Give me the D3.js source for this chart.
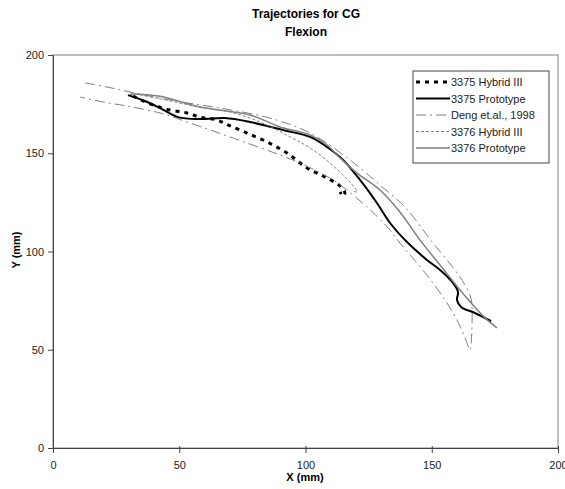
<!DOCTYPE html>
<html>
<head>
<meta charset="utf-8">
<script src="https://cdn.jsdelivr.net/npm/d3@7"></script>
<style>
  body { margin: 0; background: #fff; }
  text { font-family: "Liberation Sans", Arial, sans-serif; }
</style>
</head>
<body>
<div id="viz"></div>
<script>
/* ===== Data (x, y in mm) ===== */
const hybrid3375 = [[31.7,179.1],[38.4,175.1],[46.3,172],[53.1,170.5],[58.2,168.4],[65,166.9],[69.3,164.4],[76.8,160.3],[84.8,155.7],[92.7,150.1],[100.6,142.5],[107.7,137.9],[113.7,133.3],[115.6,129.8],[114.9,128.2],[113.7,130.3]];
const proto3375 = [[29.7,179.6],[36.4,176.6],[42.4,173.0],[49.5,168.4],[58.2,167.4],[68.1,167.9],[78.0,165.9],[91.1,161.8],[101.8,158.3],[108.5,153.2],[114.9,146.6],[121.6,136.4],[128.3,124.7],[133.5,114.5],[140.2,104.8],[148.1,95.7],[153.3,90.6],[158.4,84.0],[160.4,79.4],[160.0,75.3],[161.6,71.8],[167.1,68.7],[173.5,64.5]];
const deng1998 = [[12.7,185.8],[21.4,183.7],[30.5,181.2],[46.3,177.1],[66.1,173],[85.9,167.9],[101.8,160.3],[117.6,146.6],[129.5,133.8],[139.4,122.6],[150.5,104.3],[156,95.7],[161.2,87],[165.1,77.9],[165.9,72.8],[165.1,49.9],[164,53.4],[160,65.1],[154.5,76.8],[146.5,90.6],[137.4,104.3],[133.5,110.9],[124.4,122.6],[110.9,136.4],[97.8,145],[89.9,149.1],[70.1,158.3],[53.1,165.9],[42.4,170.5],[29.3,174],[19.8,176.1],[10.7,178.6]];
const hybrid3376 = [[32.5,180.2],[42.4,177.7],[58.2,173.5],[70.1,171],[82,165.9],[93.9,158.3],[101.8,152.7],[109.7,145],[115.6,137.9],[119.6,132.3],[120.4,130.3],[119.2,130.6]];
const proto3376 = [[30.5,180.2],[42.4,179],[58.2,173.5],[78,169.5],[89.9,163.4],[101.8,159.3],[108.5,154.2],[113.7,147.6],[120.4,139.9],[129.5,131.3],[137.4,120.1],[145.3,105.9],[153.3,93.1],[161.2,80.4],[166.3,72.8],[171.1,66.2],[175.8,61.1]];

const seriesNames = ['3375 Hybrid III', '3375 Prototype', 'Deng et.al., 1998', '3376 Hybrid III', '3376 Prototype'];
const xTicks = [0, 50, 100, 150, 200];
const yTicks = [0, 50, 100, 150, 200];

/* ===== Dimensions ===== */
const width = 565;
const height = 489;
const margin = { top: 55, right: 7, bottom: 41, left: 53 };
const boundedWidth = width - margin.left - margin.right;
const boundedHeight = height - margin.top - margin.bottom;

const styles = [
  { stroke: '#000', width: 3, dash: '4,5' },
  { stroke: '#000', width: 2, dash: null },
  { stroke: '#808080', width: 1, dash: '10,4,2,4' },
  { stroke: '#808080', width: 1, dash: '3,2' },
  { stroke: '#808080', width: 1.5, dash: null }
];
const allSeries = [hybrid3375, proto3375, deng1998, hybrid3376, proto3376];

const svg = d3.select('#viz').append('svg')
  .attr('width', width)
  .attr('height', height);

// title
svg.append('text')
  .attr('x', 306).attr('y', 18)
  .attr('text-anchor', 'middle')
  .attr('font-size', 12).attr('font-weight', 'bold')
  .text('Trajectories for CG');
svg.append('text')
  .attr('x', 306).attr('y', 36)
  .attr('text-anchor', 'middle')
  .attr('font-size', 12).attr('font-weight', 'bold')
  .text('Flexion');

const viz = svg.append('g')
  .attr('transform', `translate(${margin.left}, ${margin.top})`);

/* ===== Scales ===== */
const xScale = d3.scaleLinear().domain([0, 200]).range([0, boundedWidth]);
const yScale = d3.scaleLinear().domain([0, 200]).range([boundedHeight, 0]);

// plot area border (top & right)
viz.append('rect')
  .attr('x', 0).attr('y', 0)
  .attr('width', boundedWidth).attr('height', boundedHeight)
  .attr('fill', 'none')
  .attr('stroke', '#808080');

/* ===== Axes ===== */
const xAxis = d3.axisBottom(xScale).tickValues(xTicks).tickSize(5).tickPadding(8);
const yAxis = d3.axisLeft(yScale).tickValues(yTicks).tickSize(5).tickPadding(4);

const gx = viz.append('g')
  .attr('transform', `translate(0, ${boundedHeight})`)
  .call(xAxis);
const gy = viz.append('g').call(yAxis);

[gx, gy].forEach(g => {
  g.select('.domain').attr('stroke', '#444');
  g.selectAll('.tick line').attr('stroke', '#444');
  g.selectAll('.tick text')
    .attr('font-size', 11)
    .attr('fill', '#222')
    .style('font-family', '"Liberation Sans", Arial, sans-serif');
});
gx.selectAll('.tick line').attr('y1', -2);

svg.append('text')
  .attr('x', 305).attr('y', 481)
  .attr('text-anchor', 'middle')
  .attr('font-size', 11).attr('font-weight', 'bold')
  .text('X (mm)');
svg.append('text')
  .attr('transform', 'translate(20, 250) rotate(-90)')
  .attr('text-anchor', 'middle')
  .attr('font-size', 11).attr('font-weight', 'bold')
  .text('Y (mm)');

/* ===== Lines ===== */
const line = d3.line()
  .x(d => xScale(d[0]))
  .y(d => yScale(d[1]))
  .curve(d3.curveCatmullRom.alpha(0.5));

allSeries.forEach((data, i) => {
  viz.append('path')
    .datum(data)
    .attr('d', line)
    .attr('fill', 'none')
    .attr('stroke', styles[i].stroke)
    .attr('stroke-width', styles[i].width)
    .attr('stroke-dasharray', styles[i].dash)
    .attr('stroke-linejoin', 'round');
});

/* ===== Legend ===== */
const legend = svg.append('g').attr('transform', 'translate(413, 71)');
legend.append('rect')
  .attr('width', 136).attr('height', 92)
  .attr('fill', '#fff')
  .attr('stroke', '#444');

seriesNames.forEach((name, i) => {
  const y = 11 + i * 16.5;
  legend.append('line')
    .attr('x1', 3).attr('x2', 37)
    .attr('y1', y).attr('y2', y)
    .attr('stroke', styles[i].stroke)
    .attr('stroke-width', styles[i].width)
    .attr('stroke-dasharray', styles[i].dash);
  legend.append('text')
    .attr('x', 38).attr('y', y + 4)
    .attr('font-size', 11)
    .attr('fill', '#222')
    .text(name);
});
</script>
</body>
</html>
